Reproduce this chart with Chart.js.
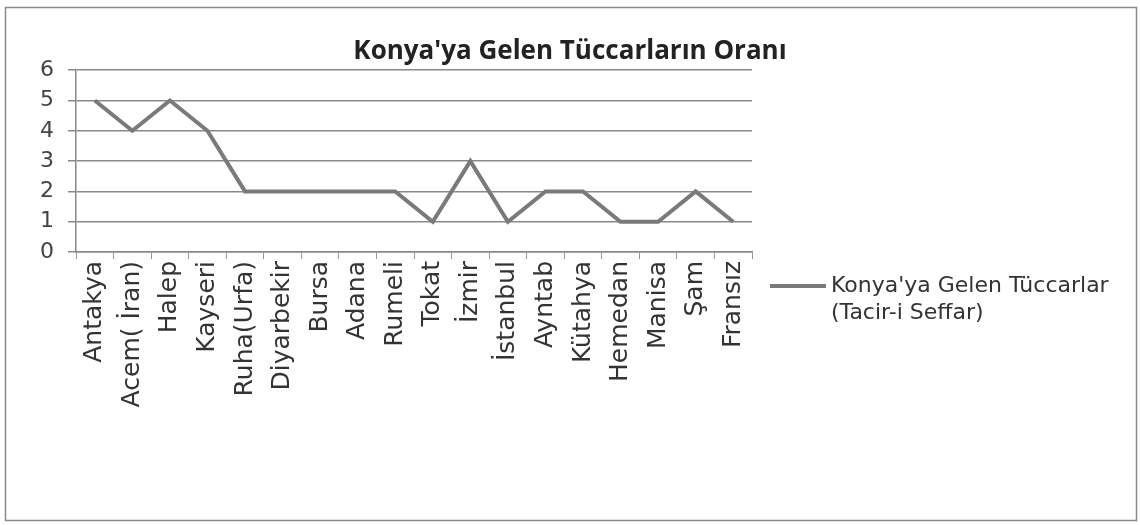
<!DOCTYPE html>
<html>
<head>
<meta charset="utf-8">
<script src="https://cdn.jsdelivr.net/npm/chart.js@4"></script>
<style>
  html, body { margin: 0; padding: 0; background: #fff; }
  #wrap { width: 1140px; height: 525px; position: relative; }
</style>
</head>
<body>
<div id="wrap"><canvas id="myChart" width="1140" height="525"></canvas></div>
<script>
let cities = ['Antakya', 'Acem( İran)', 'Halep', 'Kayseri', 'Ruha(Urfa)', 'Diyarbekir', 'Bursa', 'Adana', 'Rumeli',
    'Tokat', 'İzmir', 'İstanbul', 'Ayntab', 'Kütahya', 'Hemedan', 'Manisa', 'Şam', 'Fransız'];
let traders = [5, 4, 5, 4, 2, 2, 2, 2, 2, 1, 3, 1, 2, 2, 1, 1, 2, 1];
let seriesName = ["Konya'ya Gelen Tüccarlar", '(Tacir-i Seffar)'];
let chartTitle = "Konya'ya Gelen Tüccarların Oranı";
let yTicks = [0, 1, 2, 3, 4, 5, 6];

const lineColor = '#7a7a7a';

// frame around the whole picture + legend drawn by hand (two-line label)
const extras = {
    id: 'extras',
    afterDraw(chart) {
        const c = chart.ctx;
        c.save();
        c.strokeStyle = '#8a8a8a';
        c.lineWidth = 1.5;
        c.strokeRect(5.5, 7.5, 1131, 513);

        const a = chart.chartArea;
        const lx = a.right + 18, ly = 286;
        c.strokeStyle = lineColor;
        c.lineWidth = 4;
        c.beginPath();
        c.moveTo(lx, ly);
        c.lineTo(lx + 56, ly);
        c.stroke();
        c.fillStyle = '#333';
        c.font = '22px "DejaVu Sans", sans-serif';
        c.textBaseline = 'middle';
        seriesName.forEach((t, i) => c.fillText(t, lx + 61, ly + i * 27));
        c.restore();
    }
};

var ctx = document.getElementById('myChart').getContext('2d');
var myChart = new Chart(ctx, {
    type: 'line',
    data: {
        labels: cities,
        datasets: [{
            label: seriesName.join(' '),
            data: traders,
            borderColor: lineColor,
            borderWidth: 4,
            pointRadius: 0,
            tension: 0,
            fill: false
        }]
    },
    options: {
        responsive: false,
        animation: false,
        layout: { padding: 0 },
        plugins: {
            legend: { display: false },
            tooltip: { enabled: false },
            title: {
                display: true,
                text: chartTitle,
                color: '#222',
                font: { family: '"Open Sans", sans-serif', size: 26, weight: 'bold' },
                padding: { top: 36, bottom: 3 }
            }
        },
        scales: {
            x: {
                offset: true,
                grid: { display: true, drawOnChartArea: false, drawTicks: true, tickLength: 7, color: '#999', offset: true },
                border: { display: true, color: '#888', width: 1.5 },
                ticks: {
                    autoSkip: false,
                    minRotation: 90,
                    maxRotation: 90,
                    padding: 2,
                    color: '#333',
                    font: { family: '"DejaVu Sans", sans-serif', size: 25 }
                },
                afterFit: s => { s.height = 273; }
            },
            y: {
                min: 0,
                max: 6,
                afterBuildTicks: s => { s.ticks = yTicks.map(v => ({ value: v })); },
                grid: { color: '#8a8a8a', lineWidth: 1.5, tickLength: 8 },
                border: { display: true, color: '#888', width: 1.5 },
                ticks: {
                    color: '#444',
                    padding: 14,
                    font: { family: '"DejaVu Sans", sans-serif', size: 22 }
                },
                afterFit: s => { s.width = 76; }
            },
            spacer: {
                position: 'right',
                display: true,
                grid: { display: false },
                border: { display: false },
                ticks: { display: false },
                afterFit: s => { s.width = 388; }
            }
        }
    },
    plugins: [extras]
});
</script>
</body>
</html>
